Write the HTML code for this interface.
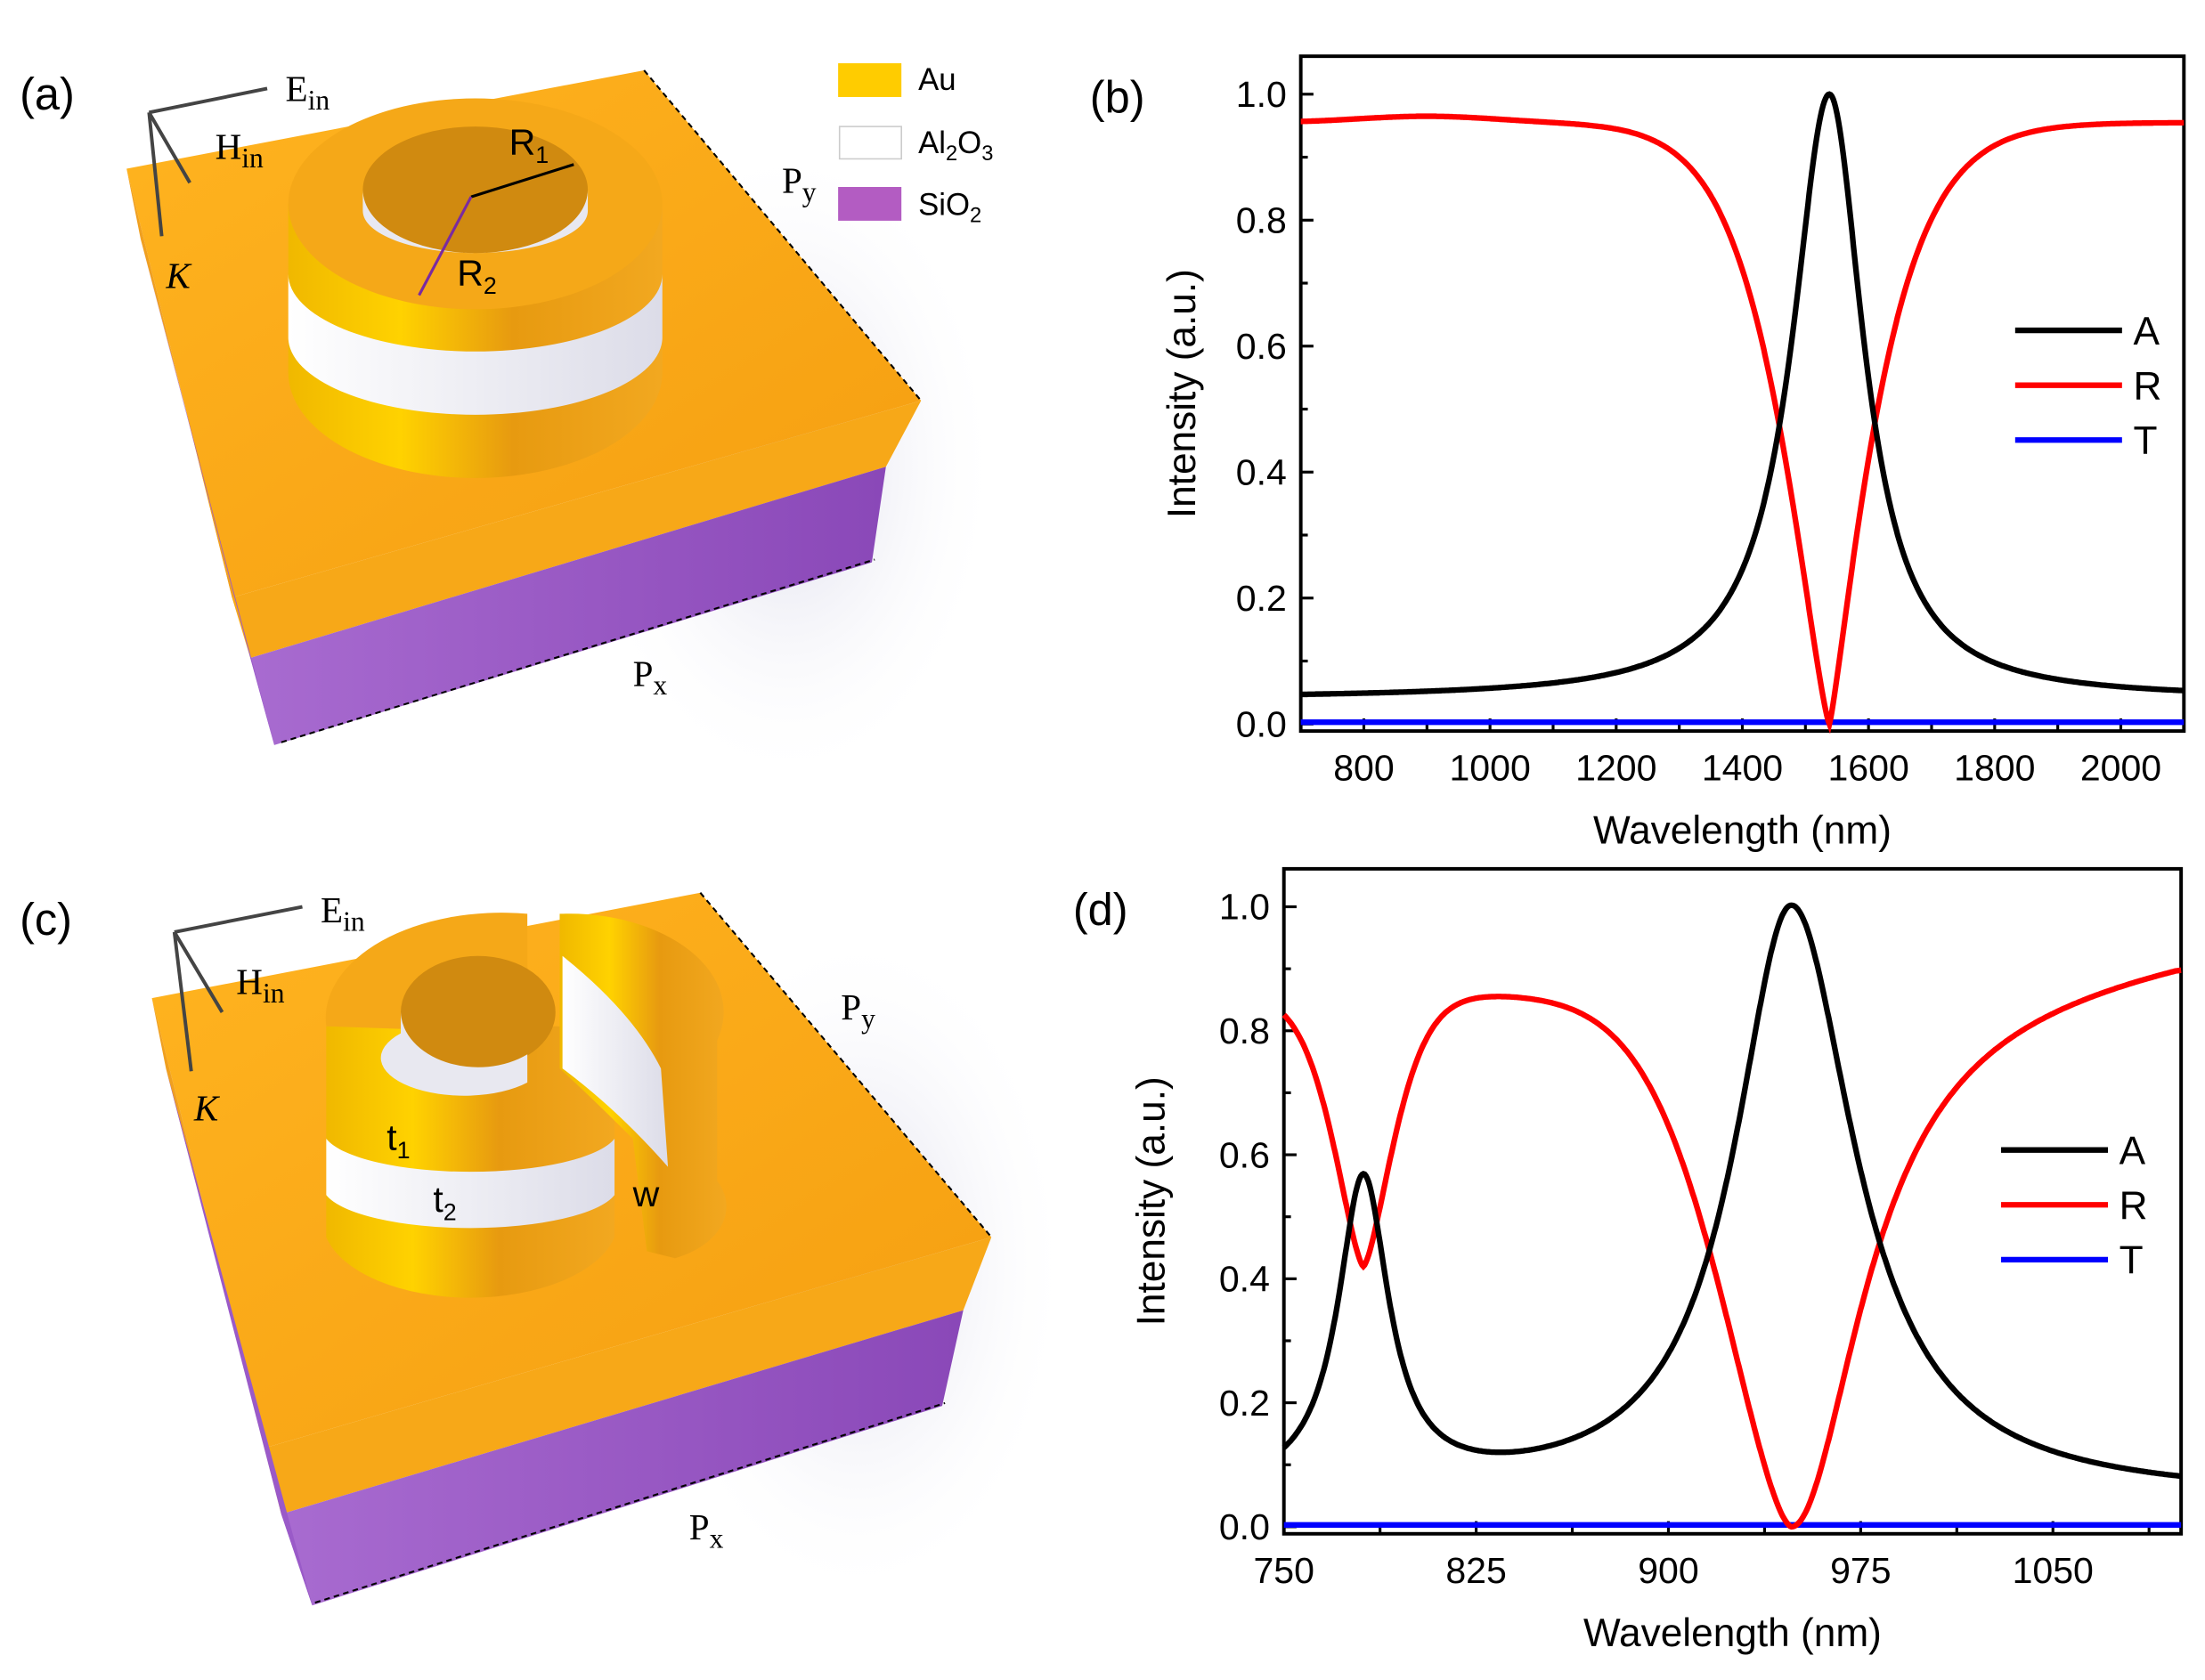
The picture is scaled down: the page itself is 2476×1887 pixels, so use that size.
<!DOCTYPE html>
<html><head><meta charset="utf-8">
<style>
html,body{margin:0;padding:0;background:#fff;}
svg{display:block;}
text{font-family:"Liberation Sans",sans-serif;fill:#000;}
.s{font-family:"Liberation Serif",serif;}
</style></head><body>
<svg id="svg" width="2476" height="1887" viewBox="0 0 1568 1195" xmlns="http://www.w3.org/2000/svg">
<defs>
<linearGradient id="gold" x1="0" x2="1"><stop offset="0" stop-color="#f0b800"/><stop offset="0.3" stop-color="#ffd200"/><stop offset="0.6" stop-color="#e79a10"/><stop offset="1" stop-color="#f2a820"/></linearGradient>
<linearGradient id="wht" x1="0" x2="1"><stop offset="0" stop-color="#fff"/><stop offset="1" stop-color="#dcdce8"/></linearGradient>
<linearGradient id="purp" x1="0" x2="1"><stop offset="0" stop-color="#a86bd0"/><stop offset="1" stop-color="#8a48b8"/></linearGradient>
<linearGradient id="topg" x1="0" x2="1" y1="0" y2="1"><stop offset="0" stop-color="#ffb420"/><stop offset="1" stop-color="#f59e10"/></linearGradient>
<radialGradient id="shadow"><stop offset="0" stop-color="#c8c8e0"/><stop offset="1" stop-color="#fff" stop-opacity="0"/></radialGradient>
</defs>

<g id="pa">
<ellipse cx="560" cy="330" rx="150" ry="230" fill="url(#shadow)" opacity="0.7"/>
<polygon points="90,120 458,50 655,285 165,425" fill="url(#topg)"/>
<polygon points="90,120 165,425 178,465 100,170" fill="#f0a020"/>
<polygon points="165,425 655,285 630,332 178,468" fill="#f7a818"/>
<polygon points="178,468 630,332 620,400 195,530" fill="url(#purp)"/>
<polygon points="100,170 178,468 195,530" fill="#9a5ac8"/>
<path d="M205,145 L205,265 A133,75 0 0 0 471,265 L471,145 Z" fill="url(#gold)"/>
<path d="M205,195 L205,240 A133,55 0 0 0 471,240 L471,195 A133,55 0 0 1 205,195 Z" fill="url(#wht)"/>
<ellipse cx="338" cy="145" rx="133" ry="75" fill="#f5a818"/>
<ellipse cx="338" cy="135" rx="80" ry="45" fill="#d08a10"/>
<path d="M258,135 A80,45 0 0 0 418,135 L418,150 A80,30 0 0 1 258,150Z" fill="#e8e8f0"/>
<line x1="335" y1="140" x2="408" y2="117" stroke="#000" stroke-width="2"/>
<line x1="335" y1="140" x2="298" y2="210" stroke="#7a2aa0" stroke-width="2"/>
<text x="362" y="110" font-size="26">R<tspan font-size="17" dy="6">1</tspan></text>
<text x="325" y="203" font-size="26">R<tspan font-size="17" dy="6">2</tspan></text>
<g stroke="#000" stroke-width="1.3" stroke-dasharray="4,3"><line x1="458" y1="50" x2="655" y2="285"/><line x1="200" y1="528" x2="622" y2="398"/></g>
<g stroke="#444" stroke-width="2.5" fill="none"><line x1="106" y1="80" x2="190" y2="63"/><line x1="106" y1="80" x2="135" y2="130"/><line x1="106" y1="80" x2="115" y2="168"/></g>
<text x="203" y="72" font-size="26" class="s">E<tspan font-size="20" dy="6">in</tspan></text>
<text x="153" y="113" font-size="26" class="s">H<tspan font-size="20" dy="6">in</tspan></text>
<text x="118" y="205" font-size="26" class="s" font-style="italic">K</text>
<text x="556" y="137" font-size="26" class="s">P<tspan font-size="20" dy="6">y</tspan></text>
<text x="450" y="488" font-size="26" class="s">P<tspan font-size="20" dy="6">x</tspan></text>
<text x="14" y="78" font-size="32">(a)</text>
<rect x="596" y="45" width="45" height="24" fill="#ffcc00"/>
<rect x="597" y="90" width="44" height="23" fill="#fff" stroke="#ccc"/>
<rect x="596" y="133" width="45" height="24" fill="#b35cc2"/>
<text x="653" y="64" font-size="22">Au</text>
<text x="653" y="109" font-size="22">Al<tspan font-size="15" dy="5">2</tspan><tspan dy="-5">O</tspan><tspan font-size="15" dy="5">3</tspan></text>
<text x="653" y="153" font-size="22">SiO<tspan font-size="15" dy="5">2</tspan></text>
</g>

<g id="pc">
<ellipse cx="610" cy="900" rx="150" ry="240" fill="url(#shadow)" opacity="0.7"/>
<polygon points="108,710 498,635 705,880 188,1030" fill="url(#topg)"/>
<polygon points="108,710 188,1030 200,1075 118,760" fill="#f0a020"/>
<polygon points="188,1030 705,880 685,932 200,1077" fill="#f7a818"/>
<polygon points="200,1077 685,932 670,1000 222,1142" fill="url(#purp)"/>
<polygon points="118,760 200,1077 222,1142" fill="#9a5ac8"/>
<path d="M232,730 L232,880 A105,55 0 0 0 437,880 L437,730 Z" fill="url(#gold)"/>
<path d="M232,810 L232,850 A105,30 0 0 0 437,850 L437,810 A105,30 0 0 1 232,810Z" fill="url(#wht)"/>
<path d="M232,730 A125,75 0 0 1 375,650 L375,735 Z" fill="#f5a818"/>
<ellipse cx="340" cy="720" rx="55" ry="40" fill="#d08a10"/>
<path d="M285,720 A55,40 0 0 0 375,750 L375,770 A55,25 0 0 1 285,735Z" fill="#e8e8f0"/>
<path d="M398,650 A110,70 0 0 1 510,740 L510,840 A60,40 0 0 1 480,895 L460,890 L450,810 Q420,780 398,760 Z" fill="url(#gold)"/>
<path d="M400,680 Q450,720 470,760 L475,830 Q440,790 400,760Z" fill="url(#wht)"/>
<text x="275" y="818" font-size="26">t<tspan font-size="17" dy="6">1</tspan></text>
<text x="308" y="862" font-size="26">t<tspan font-size="17" dy="6">2</tspan></text>
<text x="450" y="858" font-size="26">w</text>
<g stroke="#000" stroke-width="1.3" stroke-dasharray="4,3"><line x1="498" y1="635" x2="705" y2="880"/><line x1="224" y1="1140" x2="672" y2="998"/></g>
<g stroke="#444" stroke-width="2.5" fill="none"><line x1="124" y1="663" x2="215" y2="645"/><line x1="124" y1="663" x2="158" y2="720"/><line x1="124" y1="663" x2="136" y2="762"/></g>
<text x="228" y="656" font-size="26" class="s">E<tspan font-size="20" dy="6">in</tspan></text>
<text x="168" y="707" font-size="26" class="s">H<tspan font-size="20" dy="6">in</tspan></text>
<text x="138" y="797" font-size="26" class="s" font-style="italic">K</text>
<text x="598" y="725" font-size="26" class="s">P<tspan font-size="20" dy="6">y</tspan></text>
<text x="490" y="1095" font-size="26" class="s">P<tspan font-size="20" dy="6">x</tspan></text>
<text x="14" y="665" font-size="32">(c)</text>
</g>

<g id="plots"></g>
</svg>
<script>
var NS="http://www.w3.org/2000/svg";
var g=document.getElementById("plots");
function el(t,a,txt){var e=document.createElementNS(NS,t);for(var k in a)e.setAttribute(k,a[k]);if(txt!=null)e.textContent=txt;g.appendChild(e);return e;}
function L(x,c,w){var d=(x-c)/w;return 1/(1+d*d);}
function P(x,c,w,p){var d=Math.abs((x-c)/w);return Math.exp(-0.693*Math.pow(d,p));}
function plot(o){
 var X=function(v){return o.x0+(v-o.xmin)/(o.xmax-o.xmin)*(o.x1-o.x0);};
 var Y=function(v){return o.yz-(v)*(o.yz-o.y1v);};
 el("rect",{x:o.x0,y:o.top,width:o.x1-o.x0,height:o.bot-o.top,fill:"none",stroke:"#000","stroke-width":2.5});
 for(var i=0;i<=5;i++){var v=i*0.2,y=Y(v);
  el("line",{x1:o.x0,y1:y,x2:o.x0+9,y2:y,stroke:"#000","stroke-width":2});
  if(i<5){var ym=Y(v+0.1);el("line",{x1:o.x0,y1:ym,x2:o.x0+5,y2:ym,stroke:"#000","stroke-width":2});}
  el("text",{x:o.x0-10,y:y+9,"font-size":26,"text-anchor":"end"},v.toFixed(1));}
 o.xt.forEach(function(v){var x=X(v);el("line",{x1:x,y1:o.bot,x2:x,y2:o.bot-9,stroke:"#000","stroke-width":2});
  el("text",{x:x,y:o.bot+35,"font-size":26,"text-anchor":"middle"},v);});
 o.xm.forEach(function(v){var x=X(v);el("line",{x1:x,y1:o.bot,x2:x,y2:o.bot-5,stroke:"#000","stroke-width":2});});
 el("text",{x:(o.x0+o.x1)/2,y:o.bot+80,"font-size":28,"text-anchor":"middle"},o.xl);
 var cy=(o.top+o.bot)/2;
 el("text",{x:o.ylx,y:cy,"font-size":28,"text-anchor":"middle",transform:"rotate(-90 "+o.ylx+" "+cy+")"},"Intensity (a.u.)");
 el("text",{x:o.x0-150,y:o.top+40,"font-size":32},o.lab);
 var cols={A:"#000",R:"#f00",T:"#00f"};
 ["T","R","A"].forEach(function(k){var d="";for(var v=o.xmin;v<=o.xmax+1e-6;v+=(o.xmax-o.xmin)/700){var f=o.f[k](v);d+=(d?"L":"M")+X(v).toFixed(1)+","+Y(f).toFixed(1);}
  el("path",{d:d,fill:"none",stroke:cols[k],"stroke-width":4});});
 ["A","R","T"].forEach(function(k,i){var y=o.ly+i*39;el("line",{x1:o.lx,y1:y,x2:o.lx+76,y2:y,stroke:cols[k],"stroke-width":4});
  el("text",{x:o.lx+84,y:y+10,"font-size":28},k);});
}
plot({x0:925,x1:1553,top:40,bot:520,xmin:700,xmax:2100,yz:515,y1v:67,lab:"(b)",xl:"Wavelength (nm)",ylx:850,
 xt:[800,1000,1200,1400,1600,1800,2000],xm:[700,900,1100,1300,1500,1700,1900,2100],lx:1433,ly:235,
 f:{A:function(x){var b=0.04;return b+(1-b)*L(x,1538,x<1538?72:66);},
    R:function(x){var e=0.955+0.01*Math.exp(-Math.pow((x-900)/150,2));return x<1538?e*(1-P(x,1538,80,1.3)):0.955*(1-P(x,1538,72,1.2));},
    T:function(x){return 0.003;}}});
plot({x0:913,x1:1551,top:618,bot:1091,xmin:750,xmax:1100,yz:1086,y1v:645,lab:"(d)",xl:"Wavelength  (nm)",ylx:828,
 xt:[750,825,900,975,1050],xm:[787.5,862.5,937.5,1012.5,1087.5],lx:1423,ly:818,
 f:{A:function(x){return 0.045+0.955*L(x,948,x<948?27:30)+0.5*L(x,781,12);},
    R:function(x){var e=x<948?0.86:0.86+0.08*Math.min(1,(x-948)/150);var dip=x<948?P(x,948,31,1.6):L(x,948,33);
      return e*(1-dip)-0.44*P(x,781,13,1.5);},
    T:function(x){return 0.003;}}});
</script>
</body></html>
